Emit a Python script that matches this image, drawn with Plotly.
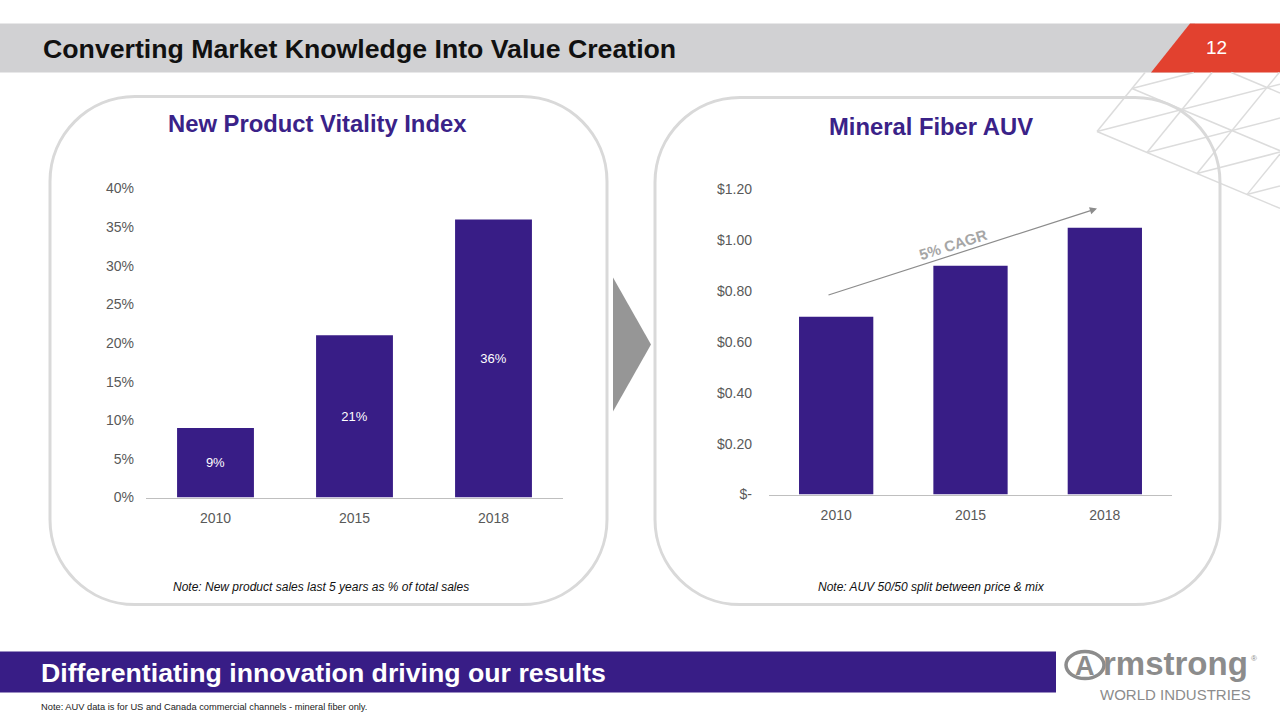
import plotly.graph_objects as go

# ---------------- data ----------------
years = ["2010", "2015", "2018"]
vitality_index = [0.09, 0.21, 0.36]          # share of sales from new products
auv = [0.70, 0.90, 1.05]                      # mineral fiber AUV ($)

pct_tick_vals = [0, 0.05, 0.10, 0.15, 0.20, 0.25, 0.30, 0.35, 0.40]
pct_tick_text = ["0%", "5%", "10%", "15%", "20%", "25%", "30%", "35%", "40%"]
auv_tick_vals = [0, 0.2, 0.4, 0.6, 0.8, 1.0, 1.2]
auv_tick_text = ["$-", "$0.20", "$0.40", "$0.60", "$0.80", "$1.00", "$1.20"]

title_text = "Converting Market Knowledge Into Value Creation"
left_title = "New Product Vitality Index"
right_title = "Mineral Fiber AUV"
left_note = "Note: New product sales last 5 years as % of total sales"
right_note = "Note: AUV 50/50 split between price & mix"
banner_text = "Differentiating innovation driving our results"
footnote = "Note: AUV data is for US and Canada commercial channels - mineral fiber only."
cagr_label = "5% CAGR"
page_number = "12"

# ---------------- style ----------------
W, H = 1280, 720
PURPLE = "#381D86"
GREY_TXT = "#595959"
FONT = "Liberation Sans, Arial, sans-serif"

# vertical calibration of the viewer (page px -> figure px)
SY, OY = 0.9776, 8.5


def fy(y):
    return (y - OY) / SY


def px(x):
    return x / W


def py(y):
    return 1 - fy(y) / H


def pt(x, y):
    return f"{px(x):.5f},{py(y):.5f}"


def rounded_rect(x0, y0, x1, y1, r):
    k = 0.5523 * r
    return (
        f"M {pt(x0 + r, y0)} L {pt(x1 - r, y0)} "
        f"C {pt(x1 - r + k, y0)} {pt(x1, y0 + r - k)} {pt(x1, y0 + r)} "
        f"L {pt(x1, y1 - r)} "
        f"C {pt(x1, y1 - r + k)} {pt(x1 - r + k, y1)} {pt(x1 - r, y1)} "
        f"L {pt(x0 + r, y1)} "
        f"C {pt(x0 + r - k, y1)} {pt(x0, y1 - r + k)} {pt(x0, y1 - r)} "
        f"L {pt(x0, y0 + r)} "
        f"C {pt(x0, y0 + r - k)} {pt(x0 + r - k, y0)} {pt(x0 + r, y0)} Z"
    )


fig = go.Figure()

fig.add_trace(go.Bar(
    x=years, y=vitality_index, xaxis="x", yaxis="y",
    marker=dict(color=PURPLE, line=dict(width=0)),
    texttemplate="%{y:.0%}", textposition="inside", insidetextanchor="middle",
    textfont=dict(color="white", size=13, family=FONT),
    hoverinfo="skip", showlegend=False,
))
fig.add_trace(go.Bar(
    x=years, y=auv, xaxis="x2", yaxis="y2",
    marker=dict(color=PURPLE, line=dict(width=0)),
    hoverinfo="skip", showlegend=False,
))

shapes = []
# header bar
shapes.append(dict(type="rect", xref="paper", yref="paper", x0=px(0), x1=px(1195),
                   y0=py(73), y1=py(24), fillcolor="#D1D1D3", line=dict(width=0), layer="below"))
shapes.append(dict(type="path", xref="paper", yref="paper",
                   path=f"M {pt(1151, 73)} L {pt(1190, 24)} L {pt(1280, 24)} L {pt(1280, 73)} Z",
                   fillcolor="#E2412F", line=dict(width=0), layer="below"))

# lattice decoration (top right)
A = (1097.0, 132.0)
u = (85.0, -22.0)
v = (50.0, 21.0)
w = (u[0] - v[0], u[1] - v[1])
poly = [(1097, 132), (1145, 73), (1280, 73), (1280, 209)]


def clip_line(p, d):
    tmin, tmax = -1e9, 1e9
    n = len(poly)
    area = sum(poly[i][0] * poly[(i + 1) % n][1] - poly[(i + 1) % n][0] * poly[i][1] for i in range(n))
    for i in range(n):
        a, b = poly[i], poly[(i + 1) % n]
        ex, ey = b[0] - a[0], b[1] - a[1]
        nx, ny = (-ey, ex) if area > 0 else (ey, -ex)   # inward normal
        num = nx * (p[0] - a[0]) + ny * (p[1] - a[1])
        den = nx * d[0] + ny * d[1]
        if abs(den) < 1e-9:
            if num < 0:
                return None
            continue
        t = -num / den
        if den > 0:
            tmin = max(tmin, t)
        else:
            tmax = min(tmax, t)
    if tmin >= tmax:
        return None
    return (p[0] + tmin * d[0], p[1] + tmin * d[1]), (p[0] + tmax * d[0], p[1] + tmax * d[1])


for k in range(-6, 9):
    for base, d in (((A[0] + k * v[0], A[1] + k * v[1]), u),
                    ((A[0] + k * u[0], A[1] + k * u[1]), v),
                    ((A[0] + k * u[0], A[1] + k * u[1]), w)):
        seg = clip_line(base, d)
        if seg is None:
            continue
        (x0, y0), (x1, y1) = seg
        if abs(x1 - x0) + abs(y1 - y0) < 2:
            continue
        shapes.append(dict(type="line", xref="paper", yref="paper",
                           x0=px(x0), y0=py(y0), x1=px(x1), y1=py(y1),
                           line=dict(color="#DCDCDC", width=1.5), layer="below"))

# rounded panels
shapes.append(dict(type="path", xref="paper", yref="paper", path=rounded_rect(50, 97, 607, 605, 85),
                   line=dict(color="#D9D9D9", width=3), fillcolor="rgba(0,0,0,0)", layer="below"))
shapes.append(dict(type="path", xref="paper", yref="paper", path=rounded_rect(655, 98, 1220, 605, 85),
                   line=dict(color="#D9D9D9", width=3), fillcolor="rgba(0,0,0,0)", layer="below"))

# chevron between panels
shapes.append(dict(type="path", xref="paper", yref="paper",
                   path=f"M {pt(613, 278)} L {pt(651, 345)} L {pt(613, 412)} Z",
                   fillcolor="#969696", line=dict(width=0), layer="below"))

# bottom banner
shapes.append(dict(type="rect", xref="paper", yref="paper", x0=px(0), x1=px(1056),
                   y0=py(693), y1=py(652), fillcolor=PURPLE, line=dict(width=0), layer="below"))

# logo ring
shapes.append(dict(type="circle", xref="paper", yref="paper", x0=px(1066), x1=px(1104),
                   y0=py(679), y1=py(652), line=dict(color="#8C8C8C", width=3.5), layer="below"))

annotations = [
    dict(text=f"<b>{title_text}</b>", x=px(41), y=py(49), xanchor="left", yanchor="middle",
         font=dict(size=26.7, color="#111111", family=FONT), showarrow=False),
    dict(text=page_number, x=px(1216), y=py(48), xanchor="center", yanchor="middle",
         font=dict(size=19, color="white", family=FONT), showarrow=False),
    dict(text=f"<b>{left_title}</b>", x=px(317), y=py(124), xanchor="center", yanchor="middle",
         font=dict(size=23.8, color="#3A2288", family=FONT), showarrow=False),
    dict(text=f"<b>{right_title}</b>", x=px(931), y=py(127), xanchor="center", yanchor="middle",
         font=dict(size=23.8, color="#3A2288", family=FONT), showarrow=False),
    dict(text=f"<i>{left_note}</i>", x=px(321), y=py(587), xanchor="center", yanchor="middle",
         font=dict(size=12, color="#111111", family=FONT), showarrow=False),
    dict(text=f"<i>{right_note}</i>", x=px(931), y=py(587), xanchor="center", yanchor="middle",
         font=dict(size=12, color="#111111", family=FONT), showarrow=False),
    dict(text=f"<b>{banner_text}</b>", x=px(39), y=py(673), xanchor="left", yanchor="middle",
         font=dict(size=26.7, color="white", family=FONT), showarrow=False),
    dict(text=footnote, x=px(39), y=py(707), xanchor="left", yanchor="middle",
         font=dict(size=9.3, color="#222222", family=FONT), showarrow=False),
    # CAGR arrow
    dict(text="", x=px(1097), y=py(209), xref="paper", yref="paper",
         ax=-270, ay=fy(294) - fy(209), showarrow=True, arrowhead=2, arrowsize=1.2, arrowwidth=1.2,
         arrowcolor="#8C8C8C", standoff=0),
    dict(text=f"<b>{cagr_label}</b>", x=px(953), y=py(245), xanchor="center", yanchor="middle",
         textangle=-17.5, font=dict(size=15, color="#A6A6A6", family=FONT), showarrow=False),
    # logo text
    dict(text="<b>A</b>", x=px(1085), y=py(666), xanchor="center", yanchor="middle",
         font=dict(size=27, color="#8C8C8C", family=FONT), showarrow=False),
    dict(text="<b>rmstrong</b>", x=px(1101), y=py(664), xanchor="left", yanchor="middle",
         font=dict(size=33, color="#8C8C8C", family=FONT), showarrow=False),
    dict(text="®", x=px(1254), y=py(659), xanchor="center", yanchor="middle",
         font=dict(size=8, color="#8C8C8C", family=FONT), showarrow=False),
    dict(text="WORLD INDUSTRIES", x=px(1175), y=py(695), xanchor="center", yanchor="middle",
         font=dict(size=15, color="#8C8C8C", family=FONT), showarrow=False),
]
for a in annotations:
    a.setdefault("xref", "paper")
    a.setdefault("yref", "paper")

axis_x_common = dict(type="category", showline=True, linecolor="#BFBFBF", linewidth=1,
                     ticks="", showgrid=False, zeroline=False,
                     tickfont=dict(size=14, color=GREY_TXT, family=FONT), fixedrange=True)
axis_y_common = dict(showline=False, showgrid=False, zeroline=False, ticks="",
                     tickfont=dict(size=14, color=GREY_TXT, family=FONT), fixedrange=True)

fig.update_layout(
    width=W, height=H, autosize=False,
    margin=dict(l=0, r=0, t=0, b=0, pad=0),
    paper_bgcolor="white", plot_bgcolor="rgba(0,0,0,0)",
    font=dict(family=FONT),
    bargap=0.447,
    showlegend=False,
    xaxis=dict(domain=[px(146), px(563)], anchor="y", ticklabelstandoff=8, **axis_x_common),
    yaxis=dict(domain=[py(498), py(189)], anchor="x", range=[0, 0.40],
               tickvals=pct_tick_vals, ticktext=pct_tick_text, ticklabelstandoff=11, **axis_y_common),
    xaxis2=dict(domain=[px(769), px(1172)], anchor="y2", ticklabelstandoff=8, **axis_x_common),
    yaxis2=dict(domain=[py(495), py(190)], anchor="x2", range=[0, 1.2],
                tickvals=auv_tick_vals, ticktext=auv_tick_text, ticklabelstandoff=16, **axis_y_common),
    shapes=shapes,
    annotations=annotations,
)

fig.write_html(
    "out.html",
    config={"responsive": False, "displayModeBar": False},
    post_script=(
        "document.documentElement.style.margin='0';"
        "document.documentElement.style.padding='0';"
        "document.documentElement.style.overflow='hidden';"
        "document.body.style.margin='0';"
        "document.body.style.padding='0';"
        "document.body.style.overflow='hidden';"
        "var gd=document.getElementById('{plot_id}');"
        "gd.style.position='fixed';gd.style.top='0px';gd.style.left='0px';"
    ),
)
